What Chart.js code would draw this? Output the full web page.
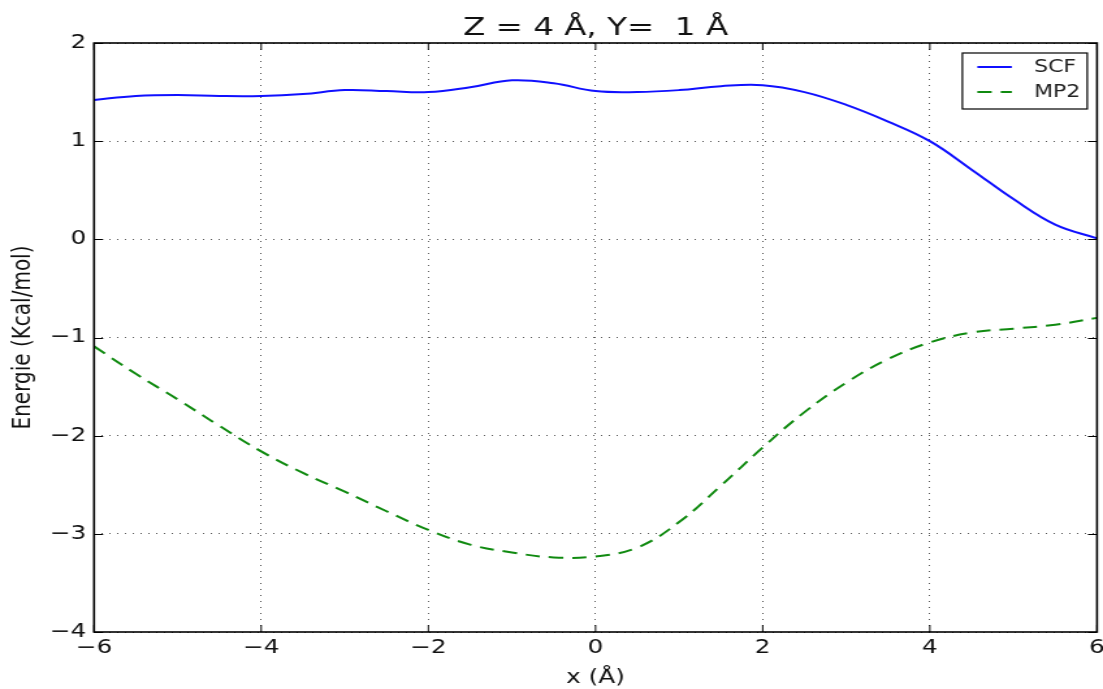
<!DOCTYPE html>
<html lang="fr">
<head>
    <meta charset="UTF-8">
    <title>Energie SCF / MP2</title>
    <style>
        html, body {
            margin: 0;
            padding: 0;
            background: white;
        }
        #graphe {
            display: block;
        }
    </style>
</head>
<body>

<!-- la figure d'origine est etiree horizontalement : on fait pareil (848 -> 1103) -->
<canvas id="graphe" width="848" height="689" style="width:1103px;height:689px"></canvas>

<script src="https://cdn.jsdelivr.net/npm/chart.js"></script>
<script>
    // x en Angstrom
    const positionsX = [-6, -5.5, -5, -4.5, -4, -3.5, -3, -2.5, -2, -1.5, -1, -0.5,
                        0, 0.5, 1, 1.5, 2, 2.5, 3, 3.5, 4, 4.5, 5, 5.5, 6];

    // energies (Kcal/mol)
    const energieSCF = [1.42, 1.46, 1.47, 1.46, 1.46, 1.48, 1.52, 1.51, 1.50, 1.55, 1.62, 1.59,
                        1.51, 1.50, 1.52, 1.56, 1.57, 1.50, 1.37, 1.20, 1.00, 0.71, 0.41, 0.15, 0.01];
    const energieMP2 = [-1.09, -1.37, -1.63, -1.90, -2.16, -2.38, -2.57, -2.77, -2.96, -3.11, -3.19, -3.24,
                        -3.23, -3.14, -2.88, -2.51, -2.12, -1.76, -1.46, -1.22, -1.05, -0.95, -0.91, -0.87, -0.80];

    const nomsSeries = ['SCF', 'MP2'];
    const titreGraphe = 'Z = 4 \u00C5, Y=  1 \u00C5';

    const police = '"DejaVu Sans", sans-serif';

    function moins(v) {
        return v < 0 ? '\u2212' + Math.abs(v) : String(v);
    }

    // titre, cadre noir, graduations vers l'interieur et legende (style matplotlib)
    const cadre = {
        id: 'cadre',
        afterDraw(chart) {
            const ctx = chart.ctx;
            const a = chart.chartArea;
            const sx = chart.scales.x;
            const sy = chart.scales.y;
            ctx.save();

            ctx.fillStyle = '#111';
            ctx.font = '25px ' + police;
            ctx.textAlign = 'center';
            ctx.textBaseline = 'alphabetic';
            ctx.fillText(titreGraphe, (a.left + a.right) / 2, 35);

            ctx.strokeStyle = '#000';
            ctx.lineWidth = 1;
            ctx.beginPath();
            sx.ticks.forEach(t => {
                const px = sx.getPixelForValue(t.value);
                ctx.moveTo(px, a.bottom); ctx.lineTo(px, a.bottom - 7);
                ctx.moveTo(px, a.top); ctx.lineTo(px, a.top + 7);
            });
            sy.ticks.forEach(t => {
                const py = Math.round(sy.getPixelForValue(t.value)) + 0.5;
                ctx.moveTo(a.left, py); ctx.lineTo(a.left + 7, py);
                ctx.moveTo(a.right, py); ctx.lineTo(a.right - 7, py);
            });
            ctx.stroke();
            ctx.lineWidth = 1.6;
            ctx.strokeRect(a.left, a.top, a.right - a.left, a.bottom - a.top);

            // legende dans le coin haut droit
            const lw = 96, lh = 56;
            const lx = a.right - 7.5 - lw, ly = a.top + 10;
            ctx.fillStyle = '#fff';
            ctx.fillRect(lx, ly, lw, lh);
            ctx.lineWidth = 1.2;
            ctx.strokeRect(lx, ly, lw, lh);
            ctx.font = '17px ' + police;
            ctx.textBaseline = 'middle';
            ctx.textAlign = 'left';
            chart.data.datasets.forEach((ds, i) => {
                const y = ly + 14 + i * 25;
                ctx.strokeStyle = ds.borderColor;
                ctx.lineWidth = ds.borderWidth;
                ctx.setLineDash(ds.borderDash || []);
                ctx.beginPath();
                ctx.moveTo(lx + 11.5, y);
                ctx.lineTo(lx + 38, y);
                ctx.stroke();
                ctx.setLineDash([]);
                ctx.fillStyle = '#222';
                ctx.fillText(ds.label, lx + 55, y + 1);
            });
            ctx.restore();
        }
    };

    const ctx = document.getElementById('graphe').getContext('2d');
    const graphe = new Chart(ctx, {
        type: 'line',
        data: {
            labels: positionsX,
            datasets: [{
                label: nomsSeries[0],
                data: positionsX.map((x, i) => ({ x: x, y: energieSCF[i] })),
                borderColor: '#1010ff',
                borderWidth: 2,
                pointRadius: 0,
                tension: 0.4,
                fill: false
            }, {
                label: nomsSeries[1],
                data: positionsX.map((x, i) => ({ x: x, y: energieMP2[i] })),
                borderColor: '#108a10',
                borderWidth: 2,
                borderDash: [11, 7],
                pointRadius: 0,
                tension: 0.4,
                fill: false
            }]
        },
        options: {
            responsive: false,
            animation: false,
            devicePixelRatio: 1,
            layout: { padding: { left: 0, right: 4.6, top: 43, bottom: 0 } },
            plugins: {
                legend: { display: false },
                tooltip: { enabled: false },
                title: { display: false }
            },
            scales: {
                x: {
                    type: 'linear',
                    min: -6,
                    max: 6,
                    afterFit: s => { s.height = 57; s.paddingLeft = 0; s.paddingRight = 0; },
                    ticks: {
                        stepSize: 2,
                        padding: 5,
                        color: '#111',
                        font: { family: police, size: 19 },
                        callback: moins
                    },
                    grid: { color: '#555', lineWidth: 1, drawTicks: false },
                    border: { display: false, dash: [1, 5] },
                    title: {
                        display: true,
                        text: 'x (\u00C5)',
                        color: '#111',
                        font: { family: police, size: 19 },
                        padding: { top: 0, bottom: 0 }
                    }
                },
                y: {
                    min: -4,
                    max: 2,
                    afterFit: s => { s.width = 72.3; },
                    ticks: {
                        stepSize: 1,
                        padding: 6,
                        color: '#111',
                        font: { family: police, size: 19 },
                        callback: moins
                    },
                    grid: { color: '#555', lineWidth: 1, drawTicks: false },
                    border: { display: false, dash: [1, 5] },
                    title: {
                        display: true,
                        text: 'Energie (Kcal/mol)',
                        color: '#111',
                        font: { family: police, size: 20 },
                        padding: { top: 6, bottom: 0 }
                    }
                }
            }
        },
        plugins: [cadre]
    });
</script>

</body>
</html>
